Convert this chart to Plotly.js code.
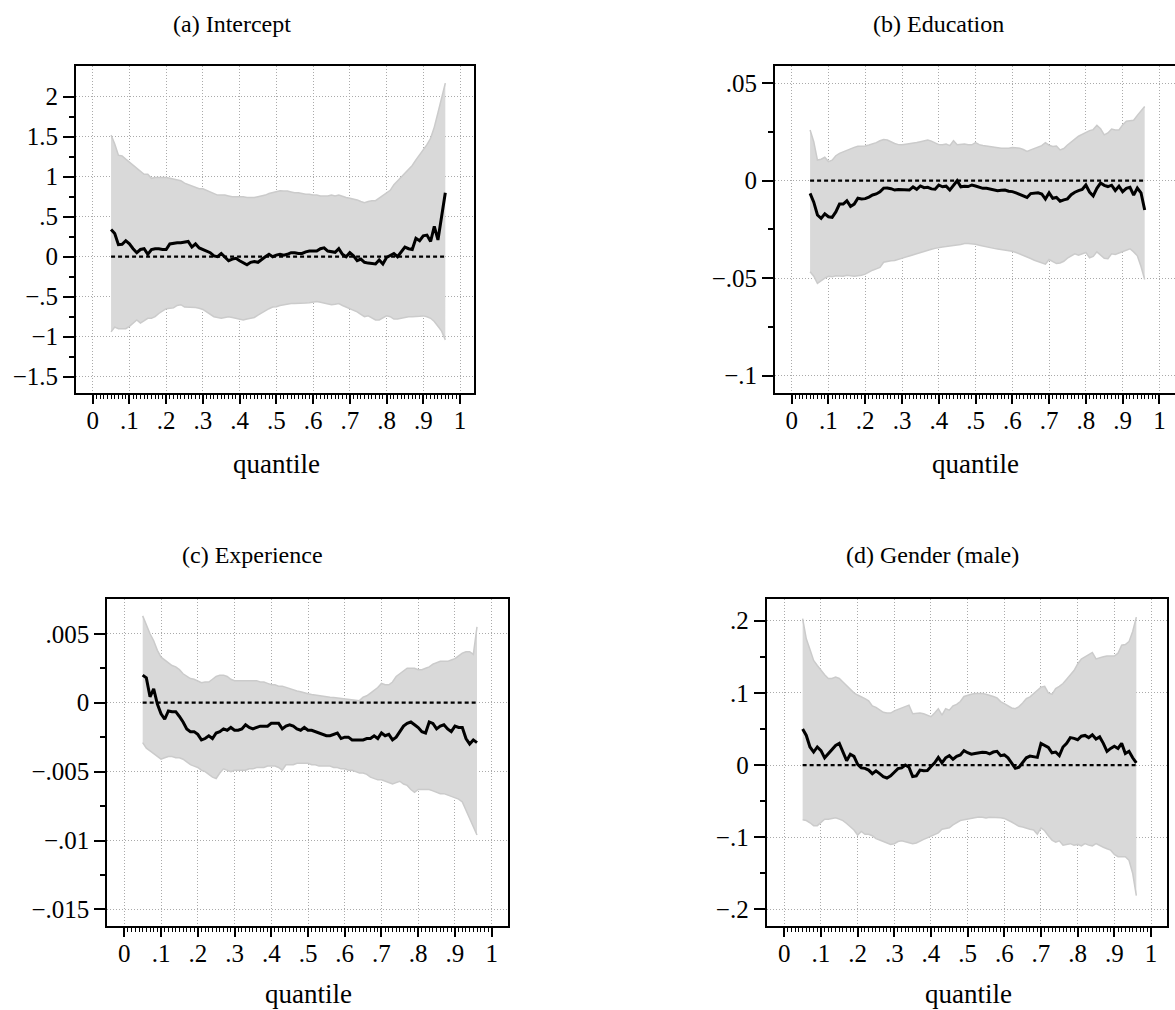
<!DOCTYPE html>
<html>
<head>
<meta charset="utf-8">
<script src="https://cdn.plot.ly/plotly-3.0.1.min.js"></script>
<style>html,body{margin:0;padding:0;background:#fff;}#chart{width:1175px;height:1010px;}</style>
</head>
<body>
<div id="chart"></div>
<script>
// ---------------- data ----------------
const quantiles = [0.05,0.06,0.07,0.08,0.09,0.10,0.11,0.12,0.13,0.14,
0.15,0.16,0.17,0.18,0.19,0.20,0.21,0.22,0.23,0.24,
0.25,0.26,0.27,0.28,0.29,0.30,0.31,0.32,0.33,0.34,
0.35,0.36,0.37,0.38,0.39,0.40,0.41,0.42,0.43,0.44,
0.45,0.46,0.47,0.48,0.49,0.50,0.51,0.52,0.53,0.54,
0.55,0.56,0.57,0.58,0.59,0.60,0.61,0.62,0.63,0.64,
0.65,0.66,0.67,0.68,0.69,0.70,0.71,0.72,0.73,0.74,
0.75,0.76,0.77,0.78,0.79,0.80,0.81,0.82,0.83,0.84,
0.85,0.86,0.87,0.88,0.89,0.90,0.91,0.92,0.93,0.94,
0.95,0.96];

const panelTitles = ["(a) Intercept", "(b) Education", "(c) Experience", "(d) Gender (male)"];
const xTitle = "quantile";
const xTickValues = [0,0.1,0.2,0.3,0.4,0.5,0.6,0.7,0.8,0.9,1];
const xTickLabels = ["0",".1",".2",".3",".4",".5",".6",".7",".8",".9","1"];

const interceptMean = [0.34,0.29,0.15,0.155,0.20,0.16,0.10,0.05,0.09,0.10,
0.03,0.09,0.10,0.10,0.09,0.09,0.16,0.17,0.175,0.175,
0.18,0.19,0.12,0.16,0.11,0.09,0.075,0.05,0.01,0.0,
0.04,0.0,-0.05,-0.03,-0.02,-0.05,-0.07,-0.10,-0.07,-0.06,
-0.07,-0.03,0.0,0.03,0.0,0.02,0.03,0.02,0.03,0.05,
0.05,0.04,0.04,0.06,0.07,0.07,0.07,0.10,0.11,0.07,
0.06,0.055,0.10,0.03,0.0,0.05,0.01,-0.05,-0.03,-0.07,
-0.08,-0.085,-0.09,-0.04,-0.09,-0.01,0.01,0.04,0.0,0.06,
0.12,0.10,0.09,0.23,0.20,0.26,0.27,0.19,0.38,0.21,
0.48,0.80];
const interceptUpper = [1.52,1.41,1.27,1.26,1.22,1.18,1.14,1.10,1.06,1.03,
1.03,0.98,0.99,0.99,0.99,0.99,0.98,0.97,0.96,0.95,
0.92,0.90,0.88,0.86,0.85,0.85,0.83,0.81,0.78,0.77,
0.77,0.77,0.76,0.75,0.75,0.75,0.75,0.74,0.74,0.74,
0.75,0.76,0.77,0.79,0.80,0.81,0.825,0.82,0.82,0.81,
0.80,0.80,0.79,0.78,0.78,0.77,0.77,0.76,0.76,0.76,
0.77,0.76,0.77,0.75,0.74,0.73,0.72,0.71,0.69,0.675,
0.69,0.70,0.70,0.73,0.77,0.79,0.83,0.90,0.95,1.00,
1.04,1.10,1.14,1.21,1.27,1.34,1.40,1.48,1.62,1.80,
2.00,2.17];
const interceptLower = [-0.94,-0.88,-0.90,-0.90,-0.90,-0.87,-0.83,-0.79,-0.83,-0.80,
-0.77,-0.77,-0.75,-0.71,-0.68,-0.65,-0.645,-0.64,-0.61,-0.60,
-0.63,-0.63,-0.63,-0.635,-0.645,-0.66,-0.69,-0.72,-0.75,-0.76,
-0.77,-0.76,-0.75,-0.76,-0.77,-0.78,-0.79,-0.78,-0.77,-0.76,
-0.73,-0.70,-0.68,-0.65,-0.63,-0.625,-0.61,-0.60,-0.595,-0.585,
-0.585,-0.585,-0.585,-0.58,-0.575,-0.57,-0.56,-0.57,-0.58,-0.59,
-0.60,-0.595,-0.585,-0.61,-0.63,-0.645,-0.67,-0.69,-0.72,-0.75,
-0.74,-0.77,-0.79,-0.79,-0.76,-0.74,-0.75,-0.78,-0.78,-0.77,
-0.76,-0.75,-0.75,-0.75,-0.745,-0.74,-0.75,-0.77,-0.81,-0.87,
-0.93,-1.04];

const educationMean = [-0.0065,-0.011,-0.0176,-0.0193,-0.017,-0.0185,-0.0188,-0.016,-0.012,-0.012,
-0.0103,-0.0132,-0.012,-0.009,-0.0094,-0.0092,-0.0084,-0.0073,-0.0068,-0.0057,
-0.0038,-0.0037,-0.0041,-0.0048,-0.0045,-0.0045,-0.0047,-0.0048,-0.0032,-0.0044,
-0.0027,-0.0036,-0.0034,-0.0042,-0.0044,-0.0022,-0.0031,-0.0028,-0.0048,-0.0024,
0.0,-0.0031,-0.0028,-0.003,-0.0022,-0.0027,-0.0033,-0.0039,-0.0039,-0.0042,
-0.0047,-0.0051,-0.0049,-0.0048,-0.0054,-0.0056,-0.0062,-0.0071,-0.008,-0.0086,
-0.0066,-0.0063,-0.0062,-0.0068,-0.0094,-0.0062,-0.009,-0.0086,-0.0105,-0.0098,
-0.0093,-0.0072,-0.0059,-0.0051,-0.0045,-0.0022,-0.0058,-0.0078,-0.0039,-0.0012,
-0.0024,-0.003,-0.0023,-0.005,-0.0028,-0.0056,-0.0039,-0.0034,-0.0074,-0.0038,
-0.0062,-0.015];
const educationUpper = [0.026,0.020,0.0106,0.011,0.012,0.0098,0.0105,0.0128,0.014,0.0148,
0.0158,0.0165,0.0171,0.0177,0.0178,0.0178,0.0183,0.0188,0.0195,0.0205,
0.0211,0.0209,0.0198,0.0191,0.0185,0.0184,0.0187,0.0189,0.0192,0.0196,
0.020,0.0204,0.0208,0.0203,0.0193,0.0185,0.0184,0.0188,0.0180,0.0205,
0.0184,0.0186,0.0188,0.0185,0.0184,0.0195,0.0185,0.0181,0.0178,0.0174,
0.0171,0.0168,0.0166,0.0166,0.0166,0.017,0.017,0.0167,0.016,0.015,
0.0158,0.0166,0.0172,0.018,0.0195,0.0182,0.0176,0.0178,0.0158,0.0165,
0.0183,0.02,0.0213,0.0228,0.0239,0.025,0.0257,0.0262,0.0284,0.0266,
0.0235,0.0245,0.0265,0.026,0.026,0.0286,0.0305,0.0308,0.031,0.0335,
0.0355,0.038];
const educationLower = [-0.0467,-0.049,-0.0527,-0.0512,-0.050,-0.049,-0.0493,-0.0487,-0.0487,-0.049,
-0.0485,-0.0487,-0.049,-0.0487,-0.0485,-0.0479,-0.0467,-0.0459,-0.0452,-0.0445,
-0.0418,-0.0413,-0.0411,-0.0409,-0.0402,-0.0398,-0.0392,-0.0386,-0.038,-0.0375,
-0.0368,-0.036,-0.0356,-0.0352,-0.0347,-0.0342,-0.034,-0.0338,-0.0336,-0.0335,
-0.033,-0.0327,-0.0322,-0.0322,-0.0323,-0.0326,-0.0331,-0.0336,-0.0338,-0.0342,
-0.0347,-0.035,-0.0353,-0.0355,-0.0356,-0.0362,-0.0368,-0.0375,-0.0382,-0.039,
-0.0399,-0.0408,-0.0416,-0.0422,-0.0428,-0.0404,-0.0415,-0.0425,-0.0422,-0.0413,
-0.0397,-0.0385,-0.0375,-0.0382,-0.0375,-0.0368,-0.0395,-0.0388,-0.0365,-0.038,
-0.0398,-0.040,-0.0375,-0.0378,-0.037,-0.0362,-0.0356,-0.0349,-0.0365,-0.0385,
-0.044,-0.0507];

const experienceMean = [0.0020,0.0018,0.00043,0.001,-0.0001,-0.0008,-0.0012,-0.0006,-0.00065,-0.00065,
-0.001,-0.0014,-0.0019,-0.0021,-0.0021,-0.0023,-0.0027,-0.0026,-0.0024,-0.0026,
-0.0022,-0.0021,-0.0019,-0.002,-0.0018,-0.002,-0.002,-0.0019,-0.0016,-0.0018,
-0.0019,-0.0018,-0.0017,-0.0017,-0.0017,-0.0015,-0.0015,-0.0015,-0.0019,-0.0017,
-0.0016,-0.0017,-0.0019,-0.002,-0.0018,-0.002,-0.002,-0.0021,-0.0022,-0.0023,
-0.0024,-0.0024,-0.0023,-0.0022,-0.0026,-0.0025,-0.0025,-0.0027,-0.0027,-0.0027,
-0.0027,-0.0026,-0.0026,-0.0024,-0.0026,-0.0022,-0.0024,-0.0023,-0.0027,-0.0025,
-0.0021,-0.0017,-0.0015,-0.0014,-0.0016,-0.0018,-0.0021,-0.0022,-0.0014,-0.0015,
-0.0019,-0.0017,-0.0016,-0.0019,-0.0021,-0.0017,-0.0018,-0.0018,-0.0026,-0.003,
-0.0027,-0.0029];
const experienceUpper = [0.0063,0.0056,0.005,0.0045,0.0038,0.0033,0.0031,0.0029,0.0027,0.0026,
0.0024,0.0021,0.0019,0.00175,0.0017,0.0016,0.00145,0.0015,0.0015,0.0017,
0.0019,0.002,0.002,0.0019,0.0017,0.0016,0.0016,0.0016,0.0016,0.0016,
0.0016,0.0016,0.0015,0.0015,0.0014,0.0013,0.0013,0.0012,0.0012,0.0011,
0.001,0.0009,0.00085,0.0008,0.0007,0.00065,0.0006,0.00055,0.00055,0.0005,
0.00045,0.0004,0.00038,0.00035,0.0003,0.00027,0.00024,0.00024,0.0002,0.00015,
0.0004,0.0005,0.0007,0.0009,0.0011,0.0014,0.0013,0.0013,0.0015,0.0019,
0.0021,0.0023,0.0025,0.0025,0.0025,0.0024,0.0024,0.0025,0.0026,0.0028,
0.0029,0.003,0.003,0.003,0.0031,0.0032,0.0034,0.0036,0.0037,0.0037,
0.0035,0.0055];
const experienceLower = [-0.0029,-0.0033,-0.0035,-0.0037,-0.0039,-0.0041,-0.004,-0.0039,-0.0039,-0.004,
-0.004,-0.0041,-0.0043,-0.0045,-0.0046,-0.0047,-0.0049,-0.005,-0.0052,-0.0054,
-0.0055,-0.0051,-0.0048,-0.0049,-0.005,-0.0049,-0.0049,-0.0049,-0.0049,-0.0048,
-0.0048,-0.0047,-0.0047,-0.0047,-0.0046,-0.0046,-0.0046,-0.0047,-0.0049,-0.0045,
-0.0045,-0.0045,-0.0044,-0.0044,-0.0044,-0.0044,-0.0045,-0.0045,-0.0046,-0.0046,
-0.0046,-0.0046,-0.0047,-0.0047,-0.0048,-0.0048,-0.0049,-0.0049,-0.005,-0.0051,
-0.0051,-0.0052,-0.0054,-0.0055,-0.0056,-0.0056,-0.0057,-0.0058,-0.0059,-0.0058,
-0.0057,-0.0059,-0.006,-0.0063,-0.0065,-0.0063,-0.0063,-0.0063,-0.0063,-0.0064,
-0.0065,-0.0066,-0.0066,-0.0067,-0.0068,-0.0069,-0.007,-0.0072,-0.0078,-0.0084,
-0.009,-0.0096];

const genderMean = [0.050,0.041,0.025,0.018,0.025,0.020,0.010,0.016,0.022,0.027,
0.030,0.019,0.006,0.015,0.012,0.001,-0.004,-0.0046,-0.007,-0.012,
-0.008,-0.012,-0.016,-0.018,-0.015,-0.010,-0.005,-0.004,0.0,-0.003,
-0.016,-0.015,-0.007,-0.008,-0.0075,-0.002,0.003,0.0106,0.003,0.010,
0.013,0.008,0.012,0.014,0.020,0.017,0.015,0.016,0.017,0.0177,
0.0175,0.0155,0.018,0.019,0.013,0.014,0.010,0.003,-0.0046,-0.003,
0.004,0.010,0.0124,0.0115,0.0106,0.030,0.027,0.0244,0.017,0.018,
0.013,0.025,0.030,0.038,0.037,0.035,0.040,0.041,0.038,0.042,
0.036,0.039,0.030,0.019,0.023,0.026,0.023,0.030,0.016,0.019,
0.010,0.003];
const genderUpper = [0.203,0.175,0.16,0.145,0.138,0.131,0.125,0.12,0.12,0.122,
0.12,0.115,0.11,0.106,0.10,0.097,0.095,0.092,0.089,0.082,
0.08,0.076,0.073,0.072,0.072,0.075,0.077,0.079,0.082,0.083,
0.071,0.072,0.072,0.071,0.069,0.067,0.072,0.078,0.069,0.078,
0.076,0.082,0.084,0.088,0.095,0.097,0.098,0.099,0.0995,0.099,
0.098,0.097,0.095,0.093,0.088,0.085,0.082,0.079,0.078,0.081,
0.086,0.092,0.0945,0.099,0.103,0.108,0.109,0.1,0.098,0.106,
0.109,0.113,0.119,0.125,0.131,0.140,0.147,0.150,0.153,0.156,
0.147,0.149,0.150,0.151,0.151,0.151,0.155,0.166,0.167,0.171,
0.185,0.205];
const genderLower = [-0.076,-0.077,-0.080,-0.084,-0.084,-0.079,-0.075,-0.075,-0.074,-0.073,
-0.075,-0.077,-0.081,-0.086,-0.090,-0.097,-0.092,-0.096,-0.096,-0.098,
-0.102,-0.104,-0.106,-0.108,-0.110,-0.109,-0.106,-0.105,-0.106,-0.108,
-0.109,-0.108,-0.105,-0.103,-0.101,-0.099,-0.097,-0.094,-0.089,-0.088,
-0.087,-0.083,-0.080,-0.077,-0.076,-0.075,-0.074,-0.073,-0.072,-0.0725,
-0.0735,-0.0723,-0.0723,-0.0723,-0.073,-0.074,-0.076,-0.079,-0.082,-0.085,
-0.086,-0.088,-0.089,-0.090,-0.096,-0.087,-0.091,-0.098,-0.104,-0.107,
-0.105,-0.111,-0.110,-0.109,-0.111,-0.110,-0.112,-0.109,-0.111,-0.112,
-0.109,-0.112,-0.114,-0.116,-0.118,-0.124,-0.127,-0.127,-0.127,-0.132,
-0.150,-0.181];

const interceptTicks = [-1.5,-1,-0.5,0,0.5,1,1.5,2];
const interceptTickLabels = ["\u22121.5","\u22121","\u2212.5","0",".5","1","1.5","2"];
const educationTicks = [-0.1,-0.05,0,0.05];
const educationTickLabels = ["\u2212.1","\u2212.05","0",".05"];
const experienceTicks = [-0.015,-0.01,-0.005,0,0.005];
const experienceTickLabels = ["\u2212.015","\u2212.01","\u2212.005","0",".005"];
const genderTicks = [-0.2,-0.1,0,0.1,0.2];
const genderTickLabels = ["\u2212.2","\u2212.1","0",".1",".2"];

// ---------------- layout helpers ----------------
const W = 1175, H = 1010;
const FONT = "Liberation Serif, Times New Roman, Times, serif";
const px = v => v / W;
const py = v => 1 - v / H;

function minorBetween(vals) {
  const out = [];
  for (let i = 0; i < vals.length - 1; i++) out.push((vals[i] + vals[i + 1]) / 2);
  return out;
}
const xMinor = [];
for (let i = 1; i < 100; i++) if (i % 10 !== 0) xMinor.push(i / 100);

const panels = [
  {mean: interceptMean, lo: interceptLower, hi: interceptUpper, ticks: interceptTicks, labels: interceptTickLabels,
   box: [76, 474, 66, 393], xr: [-0.04547, 1.03812], yr: [-1.704, 2.384], mirror: true,
   title: [232, 24], xt: [276, 464]},
  {mean: educationMean, lo: educationLower, hi: educationUpper, ticks: educationTicks, labels: educationTickLabels,
   box: [775, 1175, 66, 393], xr: [-0.04542, 1.04243], yr: [-0.10887, 0.05882], mirror: false,
   title: [938, 24], xt: [975, 464]},
  {mean: experienceMean, lo: experienceLower, hi: experienceUpper, ticks: experienceTicks, labels: experienceTickLabels,
   box: [107.3, 508, 599, 926], xr: [-0.04627, 1.04437], yr: [-0.016204, 0.007525], mirror: true,
   title: [252, 555], xt: [308, 994]},
  {mean: genderMean, lo: genderLower, hi: genderUpper, ticks: genderTicks, labels: genderTickLabels,
   box: [766.7, 1166.7, 599, 926], xr: [-0.048, 1.0428], yr: [-0.2231, 0.2301], mirror: true,
   title: [932, 555], xt: [968, 994]}
];

const traces = [];
const layout = {
  width: W, height: H,
  margin: {l: 0, r: 0, t: 0, b: 0, pad: 0},
  paper_bgcolor: "#ffffff", plot_bgcolor: "#ffffff",
  showlegend: false,
  font: {family: FONT, color: "#000000"},
  annotations: []
};

panels.forEach((p, i) => {
  const n = i === 0 ? "" : String(i + 1);
  const xa = "x" + n, ya = "y" + n;
  traces.push({x: quantiles, y: p.lo, xaxis: xa, yaxis: ya, type: "scatter", mode: "lines",
    line: {color: "#cbcbcb", width: 1.5}, hoverinfo: "skip"});
  traces.push({x: quantiles, y: p.hi, xaxis: xa, yaxis: ya, type: "scatter", mode: "lines",
    fill: "tonexty", fillcolor: "#d9d9d9", line: {color: "#cbcbcb", width: 1.5}, hoverinfo: "skip"});
  traces.push({x: [quantiles[0], quantiles[quantiles.length - 1]], y: [0, 0], xaxis: xa, yaxis: ya,
    type: "scatter", mode: "lines", line: {color: "#000000", width: 2.2, dash: "4px,3px"}, hoverinfo: "skip"});
  traces.push({x: quantiles, y: p.mean, xaxis: xa, yaxis: ya, type: "scatter", mode: "lines",
    line: {color: "#000000", width: 3}, hoverinfo: "skip"});

  layout["xaxis" + n] = {
    domain: [px(p.box[0]), Math.min(1, px(p.box[1]))], range: p.xr, anchor: ya,
    tickmode: "array", tickvals: xTickValues, ticktext: xTickLabels,
    ticks: "outside", ticklen: 9, tickwidth: 2, tickcolor: "#000000", ticklabelstandoff: -5,
    showline: true, linecolor: "#000000", linewidth: 2, mirror: true,
    showgrid: true, gridcolor: "#aaaaaa", gridwidth: 1, griddash: "1px,2px",
    zeroline: false, fixedrange: true,
    tickfont: {family: FONT, size: 25, color: "#000000"},
    minor: {tickmode: "array", tickvals: xMinor, ticks: "outside", ticklen: 4, tickwidth: 1,
            tickcolor: "#000000", showgrid: false}
  };
  layout["yaxis" + n] = {
    domain: [py(p.box[3]), py(p.box[2])], range: p.yr, anchor: xa,
    tickmode: "array", tickvals: p.ticks, ticktext: p.labels,
    ticks: "outside", ticklen: 11, tickwidth: 2, tickcolor: "#000000",
    showline: true, linecolor: "#000000", linewidth: 2, mirror: p.mirror,
    showgrid: true, gridcolor: "#aaaaaa", gridwidth: 1, griddash: "1px,2px",
    zeroline: false, fixedrange: true,
    tickfont: {family: FONT, size: 25, color: "#000000"},
    minor: {tickmode: "array", tickvals: minorBetween(p.ticks), ticks: "outside", ticklen: 5, tickwidth: 2,
            tickcolor: "#000000", showgrid: false}
  };

  layout.annotations.push({text: panelTitles[i], xref: "paper", yref: "paper",
    x: px(p.title[0]), y: py(p.title[1]), xanchor: "center", yanchor: "middle", showarrow: false,
    font: {family: FONT, size: 24, color: "#000000"}});
  layout.annotations.push({text: xTitle, xref: "paper", yref: "paper",
    x: px(p.xt[0]), y: py(p.xt[1]), xanchor: "center", yanchor: "middle", showarrow: false,
    font: {family: FONT, size: 27, color: "#000000"}});
});

Plotly.newPlot("chart", traces, layout, {staticPlot: true, displayModeBar: false});
</script>
</body>
</html>
